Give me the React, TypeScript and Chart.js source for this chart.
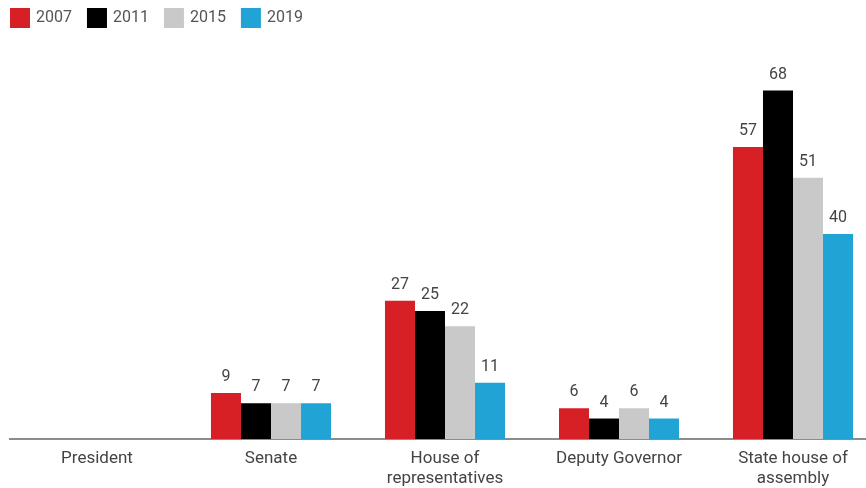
import React, { useEffect, useRef } from "react";
import { Chart, registerables } from "chart.js";

Chart.register(...registerables);

const categories: (string | string[])[] = [
  "President",
  "Senate",
  ["House of", "representatives"],
  "Deputy Governor",
  ["State house of", "assembly"],
];
const seriesLabels = ["2007", "2011", "2015", "2019"];
const values2007 = [null, 9, 27, 6, 57];
const values2011 = [null, 7, 25, 4, 68];
const values2015 = [null, 7, 22, 6, 51];
const values2019 = [null, 7, 11, 4, 40];
const colors = ["#d71f26", "#000000", "#c9c9c9", "#21a3d5"];

const FONT = "Roboto, 'Noto Sans', sans-serif";

const legendPlugin = {
  id: "customLegend",
  afterDraw(chart: any) {
    const ctx = chart.ctx;
    ctx.save();
    ctx.font = `16px ${FONT}`;
    ctx.textBaseline = "middle";
    ctx.textAlign = "left";
    let x = 10;
    const y = 8;
    chart.data.datasets.forEach((ds: any) => {
      ctx.fillStyle = ds.backgroundColor;
      ctx.fillRect(x, y, 20, 20);
      ctx.fillStyle = "#555555";
      const tx = x + 26;
      ctx.fillText(ds.label, tx, y + 10);
      x = tx + ctx.measureText(ds.label).width + 15;
    });
    ctx.restore();
  },
};

const valueLabelPlugin = {
  id: "valueLabels",
  afterDatasetsDraw(chart: any) {
    const ctx = chart.ctx;
    ctx.save();
    ctx.font = `16px ${FONT}`;
    ctx.fillStyle = "#444444";
    ctx.textAlign = "center";
    ctx.textBaseline = "bottom";
    chart.data.datasets.forEach((ds: any, di: number) => {
      const meta = chart.getDatasetMeta(di);
      meta.data.forEach((bar: any, i: number) => {
        const v = ds.data[i];
        if (v === null || v === undefined) return;
        ctx.fillText(String(v), bar.x, bar.y - 8);
      });
    });
    ctx.restore();
  },
};

export default function App() {
  const ref = useRef<HTMLCanvasElement | null>(null);
  useEffect(() => {
    document.body.style.overflow = "hidden";
    const allValues = [values2007, values2011, values2015, values2019];
    const chart = new Chart(ref.current as HTMLCanvasElement, {
      type: "bar",
      data: {
        labels: categories as any,
        datasets: seriesLabels.map((label, i) => ({
          label,
          data: allValues[i] as any,
          backgroundColor: colors[i],
          borderWidth: 0,
          categoryPercentage: 0.69,
          barPercentage: 1.0,
        })),
      },
      options: {
        animation: false,
        responsive: true,
        maintainAspectRatio: false,
        layout: { padding: { left: 10, right: 0, top: 29, bottom: 0 } },
        plugins: {
          legend: { display: false },
          tooltip: { enabled: false },
        },
        scales: {
          x: {
            grid: { display: false, drawTicks: false },
            border: { display: true, color: "#8c8c8c", width: 2 },
            ticks: {
              color: "#444444",
              padding: 10,
              maxRotation: 0,
              autoSkip: false,
              font: { family: FONT, size: 17, lineHeight: 1.176 },
            },
          },
          y: {
            display: false,
            min: 0,
            max: 80,
          },
        },
      },
      plugins: [legendPlugin, valueLabelPlugin],
    });
    return () => chart.destroy();
  }, []);
  return (
    <div style={{ position: "absolute", left: 0, top: 0, width: 880, height: 499 }}>
      <canvas ref={ref} />
    </div>
  );
}
